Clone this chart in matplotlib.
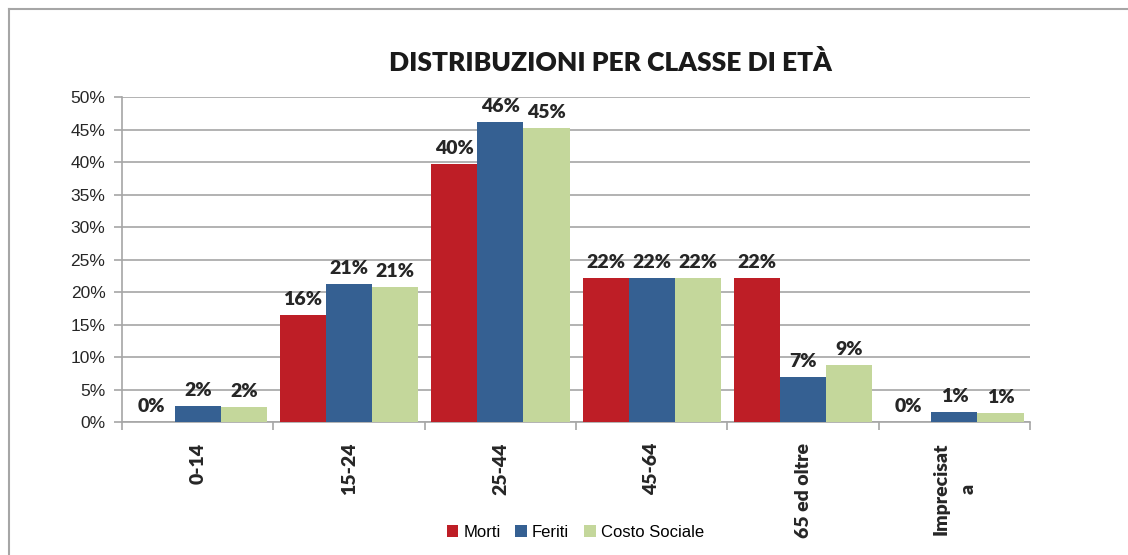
import matplotlib
matplotlib.use('Agg')
import matplotlib.pyplot as plt
import numpy as np
from matplotlib.lines import Line2D

categories = ['0-14', '15-24', '25-44', '45-64', '65 ed oltre', 'Imprecisat\na']
morti = [0.0, 0.164, 0.397, 0.2215, 0.2215, 0.0]
feriti = [0.0249, 0.212, 0.462, 0.2215, 0.069, 0.0149]
costo = [0.0225, 0.208, 0.452, 0.2215, 0.087, 0.0135]
series_names = ['Morti', 'Feriti', 'Costo Sociale']
colors = ['#BE1E26', '#356092', '#C4D79B']

fig = plt.figure(figsize=(11.28, 5.55), dpi=100)
ax = fig.add_axes([0.1082, 0.2396, 0.805, 0.5856])

x = np.arange(len(categories))
w = 0.305
grid_c = '#A6A6A6'
for i, (vals, c, name) in enumerate(zip([morti, feriti, costo], colors, series_names)):
    pos = x + (i - 1) * w
    ax.bar(pos, vals, w, color=c, label=name, zorder=3)
    for p, v in zip(pos, vals):
        ax.text(p, v + 0.011, '%d%%' % int(v * 100 + 0.5), ha='center', va='bottom',
                fontsize=14, fontweight='heavy', family='Lato', color='#262626', zorder=4)

ax.set_xlim(-0.5, len(categories) - 0.5)
ax.set_ylim(0, 0.5)
ax.set_yticks(np.arange(0, 0.51, 0.05))
ax.set_yticklabels(['%d%%' % v for v in range(0, 51, 5)], family='Liberation Sans', fontsize=12.5, color='#262626')
ax.yaxis.grid(True, color=grid_c, linewidth=1.2, zorder=0)
ax.set_axisbelow(True)

ax.set_xticks(x)
ax.set_xticklabels(categories, rotation=90, va='top', ha='center', fontsize=14,
                   fontweight='heavy', family='Lato', color='#262626', linespacing=1.7)
ax.tick_params(axis='x', length=0, pad=15)
ax.set_xticks(np.arange(-0.5, len(categories), 1), minor=True)
ax.tick_params(axis='x', which='minor', length=6, color=grid_c, width=1.2)
ax.tick_params(axis='y', length=6, color=grid_c, width=1.2, pad=6)

for s in ['top', 'right']:
    ax.spines[s].set_visible(False)
for s in ['left', 'bottom']:
    ax.spines[s].set_color(grid_c)
    ax.spines[s].set_linewidth(1.2)

fig.text(0.541, 0.888, 'DISTRIBUZIONI PER CLASSE DI ETÀ', ha='center', va='center',
         fontsize=19, fontweight='heavy', family='Lato', color='#1A1A1A')

leg = fig.legend(loc='center', bbox_to_anchor=(0.51, 0.041), ncol=3, frameon=False,
                 prop={'family': 'Liberation Sans', 'size': 12}, handlelength=0.7,
                 handleheight=0.7, handletextpad=0.3, columnspacing=0.9)

# outer chart frame
fig.add_artist(Line2D([9 / 1128, 1.0], [1 - 9 / 555] * 2, color='#A6A6A6', lw=1.5,
                      transform=fig.transFigure))
fig.add_artist(Line2D([9 / 1128] * 2, [0.0, 1 - 9 / 555], color='#A6A6A6', lw=1.5,
                      transform=fig.transFigure))

fig.savefig('out.png', dpi=100)
